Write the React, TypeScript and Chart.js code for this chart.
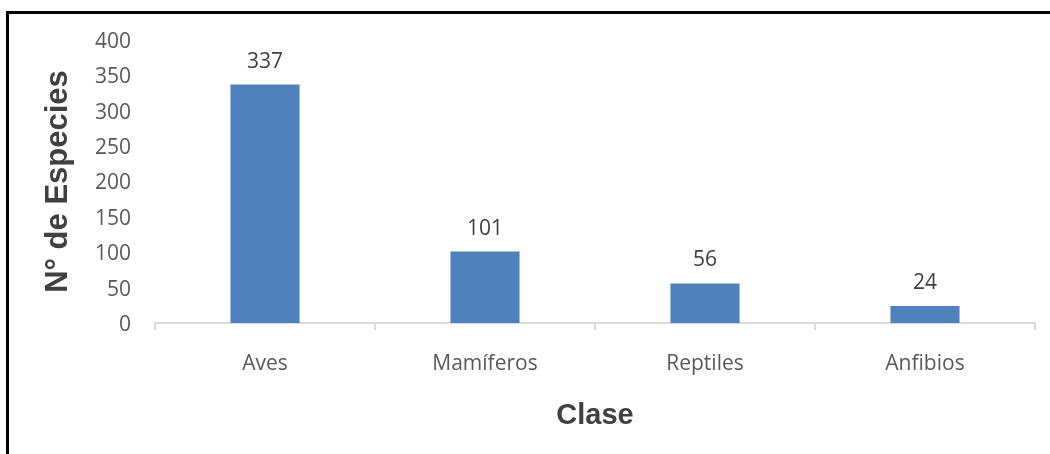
import React, { useEffect, useRef } from "react";
import { Chart, registerables } from "chart.js";

Chart.register(...registerables);

const categories = ["Aves", "Mamíferos", "Reptiles", "Anfibios"];
const especies = [337, 101, 56, 24];
const yTicks = [0, 50, 100, 150, 200, 250, 300, 350, 400];

const valueLabels = {
  id: "valueLabels",
  afterDatasetsDraw(chart: any) {
    const ctx = chart.ctx;
    const meta = chart.getDatasetMeta(0);
    ctx.save();
    ctx.font = '21px "Open Sans"';
    ctx.fillStyle = "#404040";
    ctx.textAlign = "center";
    ctx.textBaseline = "middle";
    meta.data.forEach((bar: any, i: number) => {
      ctx.fillText(String(especies[i]), bar.x, bar.y - 23);
    });
    ctx.restore();
  },
};

export default function App() {
  const ref = useRef<HTMLCanvasElement | null>(null);
  useEffect(() => {
    if (!ref.current) return;
    const chart = new Chart(ref.current, {
      type: "bar",
      data: {
        labels: categories,
        datasets: [
          {
            data: especies,
            backgroundColor: "#4f81bd",
            borderWidth: 0,
            categoryPercentage: 1,
            barPercentage: 0.314,
          },
        ],
      },
      options: {
        responsive: false,
        animation: false,
        maintainAspectRatio: false,
        layout: { padding: { top: 40, right: 15, left: 0, bottom: 0 } },
        plugins: {
          legend: { display: false },
          tooltip: { enabled: false },
        },
        scales: {
          y: {
            min: 0,
            max: 400,
            afterBuildTicks(scale: any) {
              scale.ticks = yTicks.map((v) => ({ value: v }));
            },
            afterFit(scale: any) {
              scale.width = 155;
            },
            grid: { display: false, drawTicks: false },
            border: { display: false },
            ticks: {
              padding: 24,
              labelOffset: 2,
              color: "#595959",
              font: { family: "Open Sans", size: 21 },
            },
            title: {
              display: true,
              text: "N° de Especies",
              color: "#404040",
              font: { family: "Liberation Sans", size: 31, weight: "bold" },
              padding: { top: 40, bottom: 0 },
            },
          },
          x: {
            afterFit(scale: any) {
              scale.height = 131;
            },
            grid: {
              display: true,
              drawOnChartArea: false,
              drawTicks: true,
              tickLength: 7,
              color: "#d9d9d9",
              lineWidth: 2,
              offset: true,
            },
            border: { display: true, color: "#d9d9d9", width: 2 },
            ticks: {
              padding: 21,
              color: "#595959",
              font: { family: "Open Sans", size: 21 },
            },
            title: {
              display: true,
              text: "Clase",
              color: "#404040",
              font: { family: "Liberation Sans", size: 29, weight: "bold" },
              padding: { top: 0, bottom: 21 },
            },
          },
        },
      },
      plugins: [valueLabels],
    });
    return () => chart.destroy();
  }, []);

  return (
    <div
      style={{
        position: "fixed",
        left: 0,
        top: 0,
        width: 1050,
        height: 454,
        background: "#ffffff",
        overflow: "hidden",
      }}
    >
      <div
        style={{
          position: "absolute",
          left: 6,
          top: 11,
          width: 1100,
          height: 500,
          borderLeft: "3px solid #000000",
          borderTop: "3px solid #000000",
        }}
      />
      <canvas
        ref={ref}
        width={1050}
        height={454}
        style={{ position: "absolute", left: 0, top: 0, width: 1050, height: 454 }}
      />
    </div>
  );
}
